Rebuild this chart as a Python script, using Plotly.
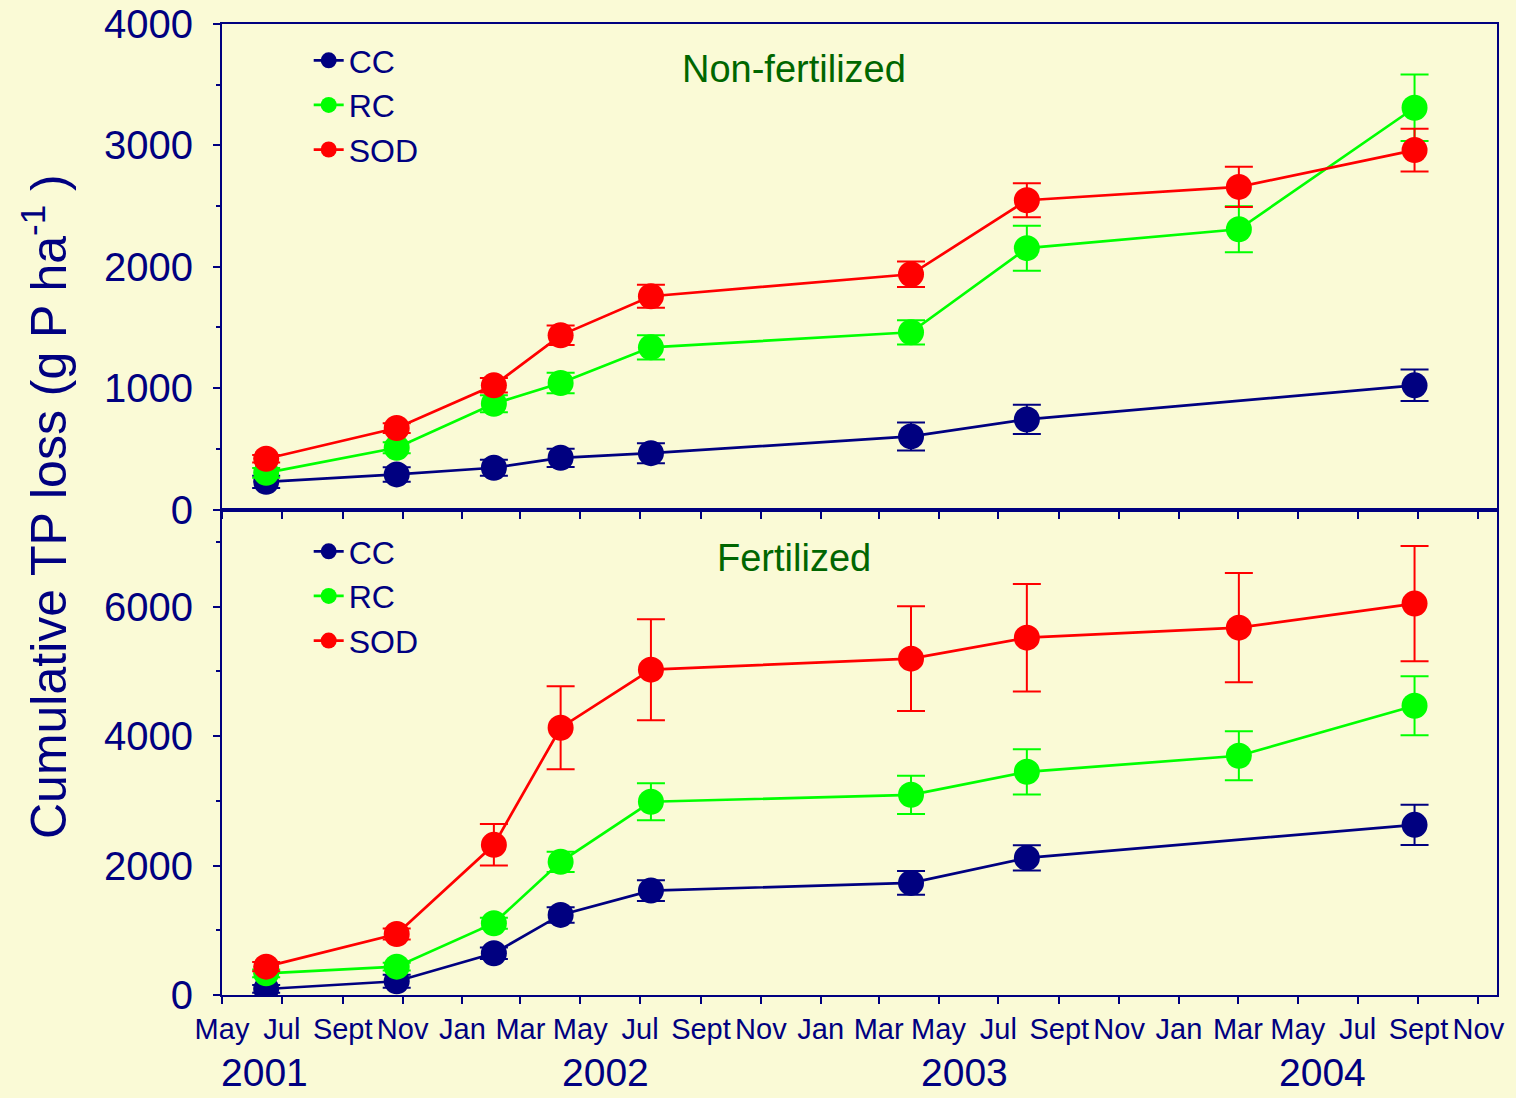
import plotly.graph_objects as go
from plotly.subplots import make_subplots

# ---------------- data ----------------
dates = ["2001-06-15", "2001-10-26", "2002-02-02", "2002-04-11", "2002-07-12",
         "2003-04-03", "2003-07-30", "2004-03-02", "2004-08-28"]

# Non-fertilized (top panel)
nf_dates_cc = ["2001-06-15", "2001-10-26", "2002-02-02", "2002-04-11", "2002-07-12",
               "2003-04-03", "2003-07-30", "2004-08-28"]
nf_cc = [228, 289, 344, 426, 464, 602, 742, 1023]
nf_cc_err = [50, 60, 66, 75, 82, 115, 120, 130]
nf_rc = [302, 509, 871, 1042, 1336, 1460, 2153, 2309, 3310]
nf_rc_err = [40, 45, 70, 85, 100, 100, 185, 190, 273]
nf_sod = [418, 671, 1023, 1435, 1757, 1938, 2548, 2658, 2961]
nf_sod_err = [30, 40, 60, 80, 95, 105, 140, 165, 177]

# Fertilized (bottom panel)
f_dates_cc = ["2001-06-15", "2001-10-26", "2002-02-02", "2002-04-11", "2002-07-12",
              "2003-04-03", "2003-07-30", "2004-08-28"]
f_cc = [93, 212, 645, 1237, 1613, 1732, 2118, 2629]
f_cc_err = [60, 100, 90, 120, 160, 185, 195, 310]
f_rc = [335, 438, 1109, 2057, 2985, 3093, 3448, 3696, 4469]
f_rc_err = [60, 60, 85, 155, 285, 295, 350, 380, 455]
f_sod = [438, 943, 2320, 4129, 5026, 5196, 5520, 5675, 6046]
f_sod_err = [70, 85, 320, 640, 780, 810, 830, 845, 890]

series_names = ["CC", "RC", "SOD"]
series_colors = ["#000080", "#00FF00", "#FF0000"]

tick_dates = ["2001-05-01", "2001-07-01", "2001-09-01", "2001-11-01",
              "2002-01-01", "2002-03-01", "2002-05-01", "2002-07-01", "2002-09-01", "2002-11-01",
              "2003-01-01", "2003-03-01", "2003-05-01", "2003-07-01", "2003-09-01", "2003-11-01",
              "2004-01-01", "2004-03-01", "2004-05-01", "2004-07-01", "2004-09-01", "2004-11-01"]
tick_text = ["May", "Jul", "Sept", "Nov",
             "Jan", "Mar", "May", "Jul", "Sept", "Nov",
             "Jan", "Mar", "May", "Jul", "Sept", "Nov",
             "Jan", "Mar", "May", "Jul", "Sept", "Nov"]
year_labels = ["2001", "2002", "2003", "2004"]
panel_titles = ["Non-fertilized", "Fertilized"]

# ---------------- figure ----------------
NAVY = "#000080"
BG = "#FAFAD6"
FONT = "Liberation Sans, Arial, sans-serif"

fig = make_subplots(rows=2, cols=1, shared_xaxes=True, vertical_spacing=0)

panels = [
    (1, "legend", [(nf_dates_cc, nf_cc, nf_cc_err), (dates, nf_rc, nf_rc_err), (dates, nf_sod, nf_sod_err)]),
    (2, "legend2", [(f_dates_cc, f_cc, f_cc_err), (dates, f_rc, f_rc_err), (dates, f_sod, f_sod_err)]),
]
for row, leg, series in panels:
    for (xs, ys, es), name, col in zip(series, series_names, series_colors):
        fig.add_trace(go.Scatter(
            x=xs, y=ys, name=name, mode="lines+markers",
            line=dict(color=col, width=2.7),
            marker=dict(color=col, size=26, line=dict(width=0)),
            error_y=dict(type="data", array=es, visible=True, color=col, thickness=2, width=14),
            legend=leg, showlegend=True,
        ), row=row, col=1)

xcommon = dict(
    type="date", range=["2001-05-01", "2004-11-20"],
    tickmode="array", tickvals=tick_dates,
    showline=True, linecolor=NAVY, linewidth=2, mirror=True,
    ticks="outside", ticklen=7, tickwidth=2, tickcolor=NAVY,
    showgrid=False, zeroline=False, tickangle=0, automargin=False,
)
fig.update_xaxes(**xcommon, showticklabels=False, row=1, col=1)
fig.update_xaxes(**xcommon, ticktext=tick_text, showticklabels=True,
                 tickfont=dict(size=29, color=NAVY, family=FONT), row=2, col=1)

ycommon = dict(
    showline=True, linecolor=NAVY, linewidth=2, mirror=True,
    ticks="outside", ticklen=7, tickwidth=2, tickcolor=NAVY,
    showgrid=False, zeroline=False, automargin=False,
    tickfont=dict(size=40, color=NAVY, family=FONT),
    ticklabelstandoff=12,
)
fig.update_yaxes(**ycommon, range=[0, 4000], tickvals=[0, 1000, 2000, 3000, 4000],
                 minor=dict(ticks="outside", ticklen=4, tickwidth=2, tickcolor=NAVY, dtick=500, tick0=0),
                 row=1, col=1)
fig.update_yaxes(**ycommon, range=[0, 7500], tickvals=[0, 2000, 4000, 6000],
                 minor=dict(ticks="outside", ticklen=4, tickwidth=2, tickcolor=NAVY, dtick=1000, tick0=0),
                 row=2, col=1)

legend_style = dict(
    font=dict(size=32, color=NAVY, family=FONT),
    bgcolor="rgba(0,0,0,0)", borderwidth=0,
    xanchor="left", yanchor="top", itemsizing="trace",
    tracegroupgap=0,
)
fig.update_layout(
    width=1516, height=1098,
    margin=dict(l=222, r=19, t=24, b=103),
    paper_bgcolor=BG, plot_bgcolor=BG,
    font=dict(family=FONT, color=NAVY),
    legend=dict(**legend_style, x=0.068, y=0.9907),
    legend2=dict(**legend_style, x=0.068, y=0.485),
)

annotations = []
year_x = [0.033, 0.301, 0.582, 0.8635]
for txt, xp in zip(year_labels, year_x):
    annotations.append(dict(text=txt, x=xp, y=-0.1045, xref="paper", yref="paper",
                            xanchor="center", yanchor="bottom", showarrow=False,
                            font=dict(size=39, color=NAVY, family=FONT)))
for txt, yp in zip(panel_titles, [0.9537, 0.45]):
    annotations.append(dict(text=txt, x=0.4486, y=yp, xref="paper", yref="paper",
                            xanchor="center", yanchor="middle", showarrow=False,
                            font=dict(size=38, color="#006600", family=FONT)))
annotations.append(dict(text="Cumulative TP loss (g P ha<sup>-1</sup> )", x=-0.1388, y=0.5026,
                        xref="paper", yref="paper", textangle=-90,
                        xanchor="center", yanchor="middle", showarrow=False,
                        font=dict(size=50, color=NAVY, family=FONT)))
fig.update_layout(annotations=annotations)

fig.write_html("out.html")
